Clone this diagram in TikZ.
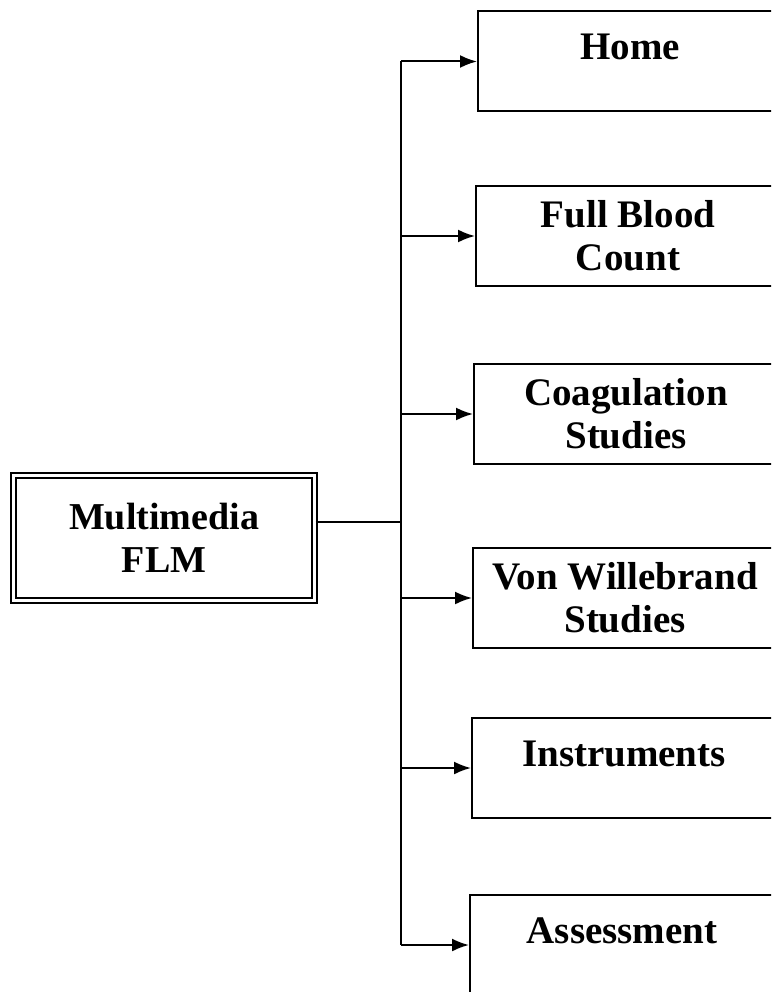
\documentclass[tikz,border=0pt]{standalone}
\usepackage{fontspec}
\setmainfont{Liberation Serif}
\usepackage{tikz}
\usetikzlibrary{positioning, arrows.meta}

\begin{document}
\begin{tikzpicture}[x=1pt, y=-1pt,
      box/.style={draw, line width=2pt, anchor=west, minimum width=304pt, minimum height=100pt, inner sep=0pt, align=center, font=\fontsize{39}{43}\selectfont\bfseries},
      topbox/.style={box, text height=26pt, text depth=30pt},
      main/.style={draw, double, double distance=3.5pt, line width=2pt, minimum width=301pt, minimum height=125pt, align=center, font=\fontsize{38}{43}\selectfont\bfseries},
      line/.style={line width=2pt},
      arrow/.style={-{Latex[length=17pt, width=13pt]}, line width=2pt}
    ]
    \useasboundingbox (0,0) rectangle (771,992);
    \clip (0,0) rectangle (771,992);

    % Root (Left)
    \node[main] (flm) at (164,538) {Multimedia\\FLM};
    \coordinate (trunk) at (401,522);

    % Pages (Right column)
    \node[topbox] (home)   at (477,61.5) {Home};
    \node[box]    (fbc)    at (475,236)  {Full Blood\\Count};
    \node[box]    (coag)   at (473,414)  {Coagulation\\Studies};
    \node[box]    (vw)     at (472,598)  {Von Willebrand\\Studies};
    \node[topbox] (instr)  at (471,768)  {Instruments};
    \node[topbox] (assess) at (469,945)  {Assessment};

    % Trunk
    \draw[line] (flm.east |- trunk) -- (trunk);
    \draw[line] (trunk |- home.west) -- (trunk |- assess.west);

    % Branches
    \foreach \n in {home, fbc, coag, vw, instr, assess}
      \draw[arrow] (trunk |- \n.west) -- (\n.west);

  \end{tikzpicture}
\end{document}
